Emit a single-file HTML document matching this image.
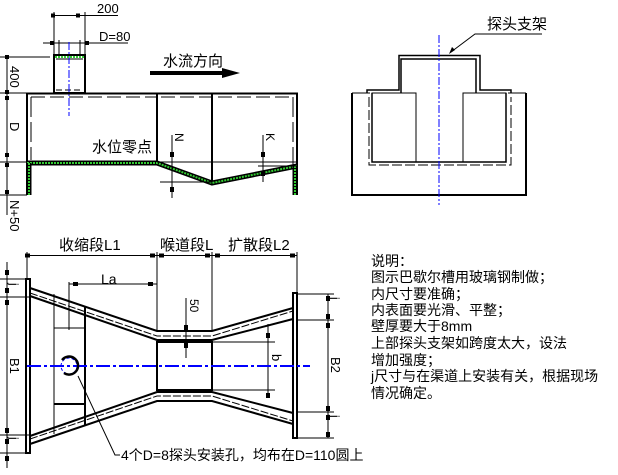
<!DOCTYPE html>
<html><head><meta charset="utf-8"><style>
html,body{margin:0;padding:0;background:#fff}
svg{display:block}
text{font-family:"Liberation Sans","WenQuanYi Zen Hei","Noto Sans CJK SC",sans-serif;fill:#000}
</style></head><body>
<svg width="618" height="475" viewBox="0 0 618 475" xmlns="http://www.w3.org/2000/svg">
<g stroke="#000" fill="none" stroke-width="1">
<!-- ===== Top-left side view ===== -->
<!-- 200 dim -->
<line x1="54" y1="15.5" x2="118" y2="15.5"/>
<line x1="54" y1="12" x2="54" y2="55"/>
<line x1="85" y1="12" x2="85" y2="55"/>
<line x1="43" y1="43" x2="128" y2="43"/>
<line x1="59" y1="40" x2="59" y2="55"/>
<line x1="80" y1="40" x2="80" y2="55"/>
<!-- pipe -->
<rect x="54" y="55" width="31" height="38" stroke-width="2"/>
<line x1="56" y1="59" x2="83" y2="59"/>
<line x1="56" y1="90" x2="83" y2="90" stroke-dasharray="6,3"/>
<line x1="69" y1="42" x2="69" y2="116" stroke="#00f" stroke-dasharray="8,2,2,2"/>
<!-- channel -->
<polyline points="27,195 27,93.5 297,93.5 297,195" stroke-width="2"/>
<line x1="31" y1="97" x2="157" y2="97" stroke-dasharray="14,5"/>
<line x1="161" y1="97" x2="293" y2="97" stroke-dasharray="14,5"/>
<line x1="31" y1="97" x2="31" y2="160" stroke-dasharray="20,5"/>
<line x1="293" y1="97" x2="293" y2="165" stroke-dasharray="20,5"/>
<line x1="157" y1="93" x2="157" y2="162" stroke-width="2"/>
<line x1="212" y1="93" x2="212" y2="183" stroke-width="2"/>
<path d="M27,163 L157,163 L212,183 L297,166" stroke="#000" stroke-width="5"/>
<path d="M27,163 L157,163 L212,183 L297,166" stroke="#3c3" stroke-width="2" stroke-dasharray="2,1"/>
<line x1="29" y1="163" x2="29" y2="195" stroke="#000" stroke-width="5"/>
<line x1="29" y1="163" x2="29" y2="195" stroke="#3c3" stroke-width="2" stroke-dasharray="2,1"/>
<line x1="295" y1="166" x2="295" y2="195" stroke="#000" stroke-width="5"/>
<line x1="295" y1="166" x2="295" y2="195" stroke="#3c3" stroke-width="2" stroke-dasharray="2,1"/>
<line x1="55" y1="57" x2="84" y2="57" stroke="#3c3" stroke-width="2" stroke-dasharray="2,1"/>
<line x1="157" y1="162" x2="297" y2="162"/>
<!-- left dims -->
<line x1="7" y1="57" x2="7" y2="215"/>
<line x1="0" y1="57" x2="50" y2="57"/>
<line x1="0" y1="93" x2="27" y2="93"/>
<line x1="0" y1="162" x2="27" y2="162"/>
<line x1="0" y1="195" x2="27" y2="195"/>
<!-- N and K dims -->
<line x1="172" y1="135" x2="172" y2="198"/>
<line x1="160" y1="182" x2="212" y2="182"/>
<line x1="263" y1="135" x2="263" y2="182"/>
<line x1="258" y1="166" x2="297" y2="166"/>
<!-- flow arrow -->
<line x1="150" y1="73" x2="226" y2="73" stroke-width="4"/>
</g>
<polygon points="222,68 240,73 222,78" fill="#000"/>
<g fill="#000">
<rect x="51" y="13.5" width="4" height="4"/><rect x="76" y="13.5" width="4" height="4"/>
<rect x="50" y="41" width="4" height="4"/><rect x="85" y="41" width="4" height="4"/>
<rect x="5" y="55" width="4" height="4"/><rect x="5" y="90" width="4" height="4"/><rect x="5" y="96" width="4" height="4"/><rect x="5" y="153" width="4" height="4"/><rect x="5" y="163" width="4" height="4"/><rect x="5" y="190" width="4" height="4"/>
<rect x="170" y="152" width="4" height="5"/><rect x="170" y="187" width="4" height="5"/>
<rect x="261" y="152" width="4" height="5"/><rect x="261" y="171" width="4" height="5"/>
</g>
<text x="97" y="13" font-size="13">200</text>
<text x="99" y="41" font-size="13">D=80</text>
<text x="163" y="66" font-size="15">水流方向</text>
<text x="92" y="152" font-size="15">水位零点</text>
<text transform="translate(10,66) rotate(90)" font-size="13">400</text>
<text transform="translate(10,122) rotate(90)" font-size="13">D</text>
<text transform="translate(10,200) rotate(90)" font-size="13">N+50</text>
<text transform="translate(175,133) rotate(90)" font-size="12">N</text>
<text transform="translate(266,133) rotate(90)" font-size="12">K</text>

<!-- ===== Right section view ===== -->
<g stroke="#000" fill="none">
<polyline points="352,93 352,195 526,195 526,93" stroke-width="2"/>
<line x1="352" y1="93" x2="370" y2="93"/>
<line x1="508" y1="93" x2="526" y2="93"/>
<polyline points="369,97 369,165 511,165 511,97" stroke-dasharray="10,3"/>
<polyline points="372,93 372,162 506,162 506,93" stroke-width="1.5"/>
<rect x="372" y="93" width="44" height="69"/>
<rect x="463" y="93" width="43" height="69"/>
<polyline points="367,93 367,90 399,90 399,55.5 480,55.5 480,90 511,90 511,93" stroke-width="1.5"/>
<polyline points="401,93 401,59 476,59 476,93" stroke-width="1.5"/>
<line x1="439" y1="35" x2="439" y2="205" stroke="#00f" stroke-dasharray="8,2,2,2"/>
<polyline points="451,52 475,34 542,34"/>
</g>
<polygon points="449,54 452,47 455,50" fill="#000"/>
<text x="487" y="29" font-size="15">探头支架</text>

<!-- ===== Bottom plan view ===== -->
<g stroke="#000" fill="none">
<line x1="27" y1="255.5" x2="297" y2="255.5"/>
<line x1="27" y1="252" x2="27" y2="279"/>
<line x1="157" y1="252" x2="157" y2="330"/>
<line x1="212" y1="252" x2="212" y2="330"/>
<line x1="297" y1="252" x2="297" y2="293"/>
<!-- La -->
<line x1="69" y1="284" x2="157" y2="284"/>
<line x1="69" y1="282" x2="69" y2="330"/>
<!-- flanges -->
<rect x="26" y="279" width="4" height="174" stroke-width="2"/>
<rect x="293" y="293" width="4" height="145" stroke-width="2"/>
<!-- walls upper -->
<polyline points="30,288 157,331 212,331 293,308" stroke-width="2"/>
<polyline points="30,293 157,336 212,336 293,311" stroke-dasharray="8,2"/>
<polyline points="30,296 157,340 212,340 293,319" stroke-width="2"/>
<!-- walls lower -->
<polyline points="30,444 157,401 212,401 293,424" stroke-width="2"/>
<polyline points="30,439 157,396 212,396 293,421" stroke-dasharray="8,2"/>
<polyline points="30,436 157,392 212,392 293,413" stroke-width="2"/>
<rect x="157" y="342" width="55" height="48" stroke-width="2"/>
<line x1="54" y1="294" x2="54" y2="434"/>
<line x1="85" y1="306" x2="85" y2="426" stroke-width="2"/>
<line x1="54" y1="328" x2="85" y2="328"/>
<line x1="54" y1="404" x2="85" y2="404" stroke-width="2"/>
<!-- 50 dim -->
<line x1="186" y1="298" x2="186" y2="358"/>
<!-- b dim -->
<line x1="212" y1="342" x2="275" y2="342"/>
<line x1="212" y1="390" x2="275" y2="390"/>
<line x1="268" y1="324" x2="268" y2="398"/>
<!-- B1 -->
<line x1="7" y1="262" x2="7" y2="468"/>
<line x1="0" y1="279" x2="26" y2="279"/>
<line x1="0" y1="297" x2="30" y2="297"/>
<line x1="0" y1="435" x2="30" y2="435"/>
<line x1="0" y1="453" x2="26" y2="453"/>
<!-- B2 -->
<line x1="328" y1="294" x2="328" y2="438"/>
<line x1="297" y1="294" x2="334" y2="294"/>
<line x1="297" y1="320" x2="334" y2="320"/>
<line x1="297" y1="412" x2="334" y2="412"/>
<line x1="297" y1="438" x2="334" y2="438"/>
<!-- center line -->
<line x1="27" y1="366" x2="310" y2="366" stroke="#00f" stroke-width="2" stroke-dasharray="14,3,3,3"/>
<circle cx="69" cy="366" r="8" stroke="#00f" stroke-dasharray="3,2"/>
<path d="M62,360 A9,9 0 1 1 64,373" stroke-width="2.5"/>
<polyline points="78,376 115,455 120,455"/>
</g>
<g fill="#000">
<rect x="25" y="253.5" width="5" height="4"/><rect x="150" y="253.5" width="5" height="4"/><rect x="159" y="253.5" width="5" height="4"/><rect x="205" y="253.5" width="5" height="4"/><rect x="215" y="253.5" width="5" height="4"/><rect x="290" y="253.5" width="5" height="4"/>
<rect x="73" y="282" width="5" height="4"/><rect x="148" y="282" width="5" height="4"/>
<rect x="184" y="325" width="4" height="5"/><rect x="184" y="343" width="4" height="5"/>
<rect x="266" y="333" width="4" height="5"/><rect x="266" y="393" width="4" height="5"/>
<rect x="5" y="270" width="4" height="5"/><rect x="5" y="288" width="4" height="5"/><rect x="5" y="300" width="4" height="5"/><rect x="5" y="428" width="4" height="5"/><rect x="5" y="439" width="4" height="5"/><rect x="5" y="456" width="4" height="5"/>
<rect x="326" y="296" width="4" height="5"/><rect x="326" y="314" width="4" height="5"/><rect x="326" y="323" width="4" height="5"/><rect x="326" y="406" width="4" height="5"/><rect x="326" y="415" width="4" height="5"/><rect x="326" y="432" width="4" height="5"/>
</g>
<text x="59" y="250" font-size="15">收缩段L1</text>
<text x="160" y="250" font-size="15">喉道段L</text>
<text x="228" y="250" font-size="15">扩散段L2</text>
<text x="101" y="284" font-size="14">La</text>
<text transform="translate(190,299) rotate(90)" font-size="12">50</text>
<text transform="translate(272,354) rotate(90)" font-size="13">b</text>
<text transform="translate(10,358) rotate(90)" font-size="13">B1</text>
<text transform="translate(331,357) rotate(90)" font-size="13">B2</text>
<text transform="translate(10,283) rotate(90)" font-size="12">j</text>
<text transform="translate(10,437) rotate(90)" font-size="12">j</text>
<text transform="translate(331,297) rotate(90)" font-size="12">j</text>
<text transform="translate(331,415) rotate(90)" font-size="12">j</text>
<text x="121" y="460" font-size="14">4个D=8探头安装孔，均布在D=110圆上</text>

<!-- notes -->
<g font-size="14">
<text x="371" y="266">说明：</text>
<text x="371" y="282">图示巴歇尔槽用玻璃钢制做；</text>
<text x="371" y="299">内尺寸要准确；</text>
<text x="371" y="315">内表面要光滑、平整；</text>
<text x="371" y="331">壁厚要大于8mm</text>
<text x="371" y="348">上部探头支架如跨度太大，设法</text>
<text x="371" y="365">增加强度；</text>
<text x="371" y="381">j尺寸与在渠道上安装有关，根据现场</text>
<text x="371" y="398">情况确定。</text>
</g>
</svg>
</body></html>
